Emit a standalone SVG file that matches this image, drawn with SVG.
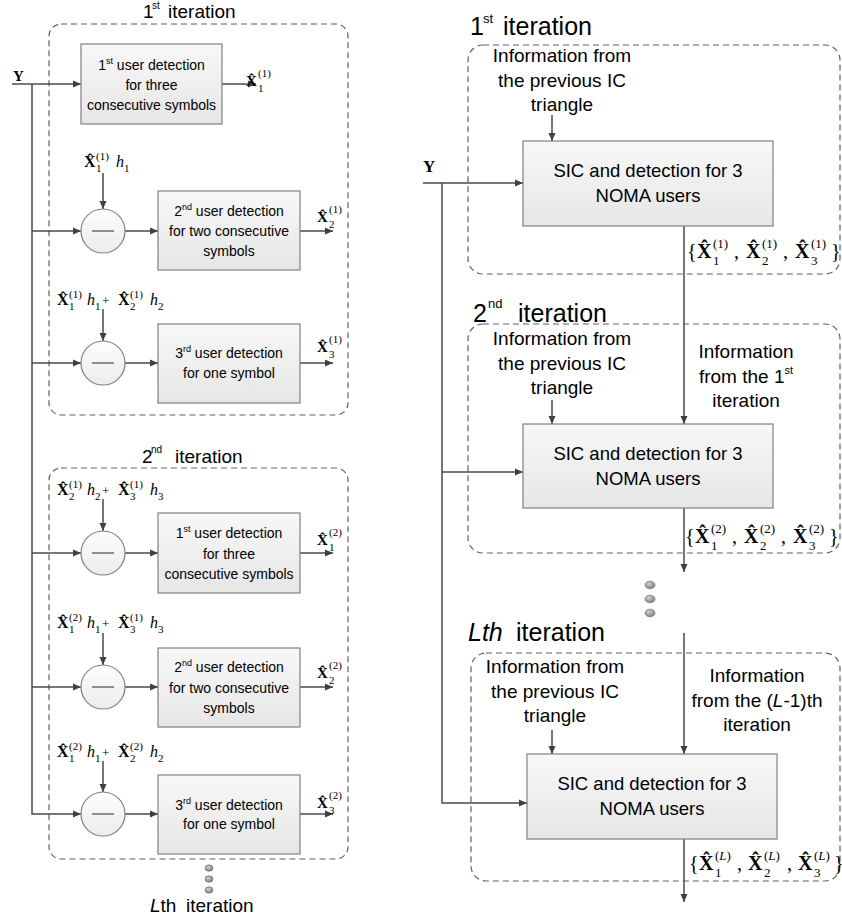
<svg xmlns="http://www.w3.org/2000/svg" width="842" height="918" viewBox="0 0 842 918">
<defs>
<linearGradient id="gbox" x1="0" y1="0" x2="0" y2="1"><stop offset="0" stop-color="#f8f8f8"/><stop offset="1" stop-color="#e6e6e6"/></linearGradient>
<linearGradient id="gcir" x1="0" y1="0" x2="0" y2="1"><stop offset="0" stop-color="#fdfdfd"/><stop offset="1" stop-color="#ececec"/></linearGradient>
<radialGradient id="gdot" cx="0.4" cy="0.35" r="0.7"><stop offset="0" stop-color="#d0d0d0"/><stop offset="1" stop-color="#7a7a7a"/></radialGradient>
<marker id="ar" markerWidth="9" markerHeight="8" refX="8" refY="4" orient="auto" markerUnits="userSpaceOnUse"><path d="M0,0.5 L8,4 L0,7.5 z" fill="#404040"/></marker>
</defs>
<style>
.t{font-family:"Liberation Sans",Arial,sans-serif;fill:#000}
.m{font-family:"Liberation Serif","DejaVu Serif",serif;fill:#000}
.b{font-weight:bold}
.i{font-style:italic}
.s{font-size:11px}
.S{font-size:13px}
.box{fill:url(#gbox);stroke:#808080;stroke-width:1.2}
.cir{fill:url(#gcir);stroke:#808080;stroke-width:1.2}
.dash{fill:none;stroke:#606060;stroke-width:1.2;stroke-dasharray:6 4}
.ln{fill:none;stroke:#4a4a4a;stroke-width:1.5}
.arr{marker-end:url(#ar)}
.minus{stroke:#555;stroke-width:1.3}
.dot{fill:url(#gdot);stroke:#666;stroke-width:0.6}
</style>

<!-- iteration frames -->
<g id="frames">
<rect id="frameL1" class="dash" x="49" y="24" width="299" height="391" rx="12"/>
<rect id="frameL2" class="dash" x="49" y="468" width="299" height="391" rx="12"/>
<rect id="frameR1" class="dash" x="468" y="45" width="372" height="229" rx="15"/>
<rect id="frameR2" class="dash" x="468" y="324" width="372" height="229" rx="15"/>
<rect id="frameR3" class="dash" x="471" y="653" width="369" height="228" rx="15"/>
</g>

<!-- titles -->
<g id="titles">
<text class="t" font-size="19"><tspan x="143" y="18">1</tspan><tspan x="152" y="9" font-size="10">st</tspan><tspan x="168" y="18">iteration</tspan></text>
<text class="t" font-size="19"><tspan x="142" y="463">2</tspan><tspan x="151" y="453" font-size="10">nd</tspan><tspan x="175" y="463">iteration</tspan></text>
<text class="t" font-size="19"><tspan x="150" y="912" class="i">L</tspan><tspan>th</tspan><tspan x="186" y="912">iteration</tspan></text>
<text class="t" font-size="25"><tspan x="470" y="35">1</tspan><tspan x="483" y="23" font-size="13">st</tspan><tspan x="503" y="35">iteration</tspan></text>
<text class="t" font-size="25"><tspan x="473" y="322">2</tspan><tspan x="488" y="308" font-size="13">nd</tspan><tspan x="518" y="322">iteration</tspan></text>
<text class="t" font-size="25"><tspan x="468" y="641" class="i">Lth</tspan><tspan x="516" y="641">iteration</tspan></text>
</g>

<!-- connectors -->
<g id="connectors">
<path class="ln arr" d="M12,84 H81"/>
<path class="ln arr" d="M32,84 V814 H81"/>
<path class="ln arr" d="M32,231 H81"/>
<path class="ln arr" d="M32,363 H81"/>
<path class="ln arr" d="M32,553 H81"/>
<path class="ln arr" d="M32,687 H81"/>
<path class="ln arr" d="M125,231 H158"/>
<path class="ln arr" d="M125,363 H158"/>
<path class="ln arr" d="M125,553 H158"/>
<path class="ln arr" d="M125,687 H158"/>
<path class="ln arr" d="M125,814 H158"/>
<path class="ln arr" d="M222,84 H256"/>
<path class="ln arr" d="M300,231 H333"/>
<path class="ln arr" d="M300,363 H333"/>
<path class="ln arr" d="M300,553 H333"/>
<path class="ln arr" d="M300,687 H333"/>
<path class="ln arr" d="M300,814 H333"/>
<path class="ln arr" d="M103,173 V209"/>
<path class="ln arr" d="M103,309 V341"/>
<path class="ln arr" d="M103,499 V531"/>
<path class="ln arr" d="M103,633 V665"/>
<path class="ln arr" d="M103,761 V792"/>
<path class="ln arr" d="M423,183 H523"/>
<path class="ln arr" d="M442,183 V803 H527"/>
<path class="ln arr" d="M442,472 H523"/>
<path class="ln arr" d="M552,115 V141"/>
<path class="ln arr" d="M552,400 V424"/>
<path class="ln arr" d="M552,730 V754"/>
<path class="ln arr" d="M684,226 V424"/>
<path class="ln arr" d="M684,508 V572"/>
<path class="ln arr" d="M684,633 V754"/>
<path class="ln arr" d="M684,839 V902"/>
</g>

<!-- left column nodes -->
<g id="inputY-left"><text class="m b" font-size="15" x="13" y="81">Y</text></g>

<g id="L1-det1">
<rect class="box" x="81" y="44" width="141" height="80"/>
<text class="t" font-size="14" text-anchor="middle" x="151.5" y="70">1<tspan font-size="9" dy="-6">st</tspan><tspan dy="6">  user detection</tspan></text>
<text class="t" font-size="14" text-anchor="middle" x="151.5" y="90">for three</text>
<text class="t" font-size="14" text-anchor="middle" x="151.5" y="110">consecutive symbols</text>
</g>
<g id="L1-out1"><text class="m" font-size="15"><tspan x="246" y="86" class="b">X&#x0302;</tspan><tspan x="258" y="77" class="s">(1)</tspan><tspan x="258" y="92" class="s">1</tspan></text></g>

<g id="L1-in2"><text class="m" font-size="16"><tspan x="84" y="167" class="b">X&#x0302;</tspan><tspan x="96" y="160" class="s">(1)</tspan><tspan x="96" y="172" class="s">1</tspan><tspan x="116" y="167" class="i">h</tspan><tspan x="124" y="172" class="s">1</tspan></text></g>
<g id="L1-sub2"><circle class="cir" cx="103" cy="231" r="22"/><line class="minus" x1="92" y1="231" x2="114" y2="231"/></g>
<g id="L1-det2">
<rect class="box" x="158" y="191" width="142" height="79"/>
<text class="t" font-size="14" text-anchor="middle" x="229" y="216">2<tspan font-size="9" dy="-6">nd</tspan><tspan dy="6">  user detection</tspan></text>
<text class="t" font-size="14" text-anchor="middle" x="229" y="236">for two consecutive</text>
<text class="t" font-size="14" text-anchor="middle" x="229" y="256">symbols</text>
</g>
<g id="L1-out2"><text class="m" font-size="15"><tspan x="317" y="222" class="b">X&#x0302;</tspan><tspan x="329" y="213" class="s">(1)</tspan><tspan x="329" y="228" class="s">2</tspan></text></g>

<g id="L1-in3"><text class="m" font-size="16"><tspan x="57" y="305" class="b">X&#x0302;</tspan><tspan x="69" y="298" class="s">(1)</tspan><tspan x="69" y="310" class="s">1</tspan><tspan x="87" y="305" class="i">h</tspan><tspan x="95" y="310" class="s">1</tspan><tspan x="102" y="305" class="S">+</tspan><tspan x="118" y="305" class="b">X&#x0302;</tspan><tspan x="130" y="298" class="s">(1)</tspan><tspan x="130" y="310" class="s">2</tspan><tspan x="150" y="305" class="i">h</tspan><tspan x="158" y="310" class="s">2</tspan></text></g>
<g id="L1-sub3"><circle class="cir" cx="103" cy="363" r="22"/><line class="minus" x1="92" y1="363" x2="114" y2="363"/></g>
<g id="L1-det3">
<rect class="box" x="158" y="324" width="142" height="79"/>
<text class="t" font-size="14" text-anchor="middle" x="229" y="358">3<tspan font-size="9" dy="-6">rd</tspan><tspan dy="6">  user detection</tspan></text>
<text class="t" font-size="14" text-anchor="middle" x="229" y="378">for one symbol</text>
</g>
<g id="L1-out3"><text class="m" font-size="15"><tspan x="317" y="352" class="b">X&#x0302;</tspan><tspan x="329" y="343" class="s">(1)</tspan><tspan x="329" y="358" class="s">3</tspan></text></g>

<g id="L2-in1"><text class="m" font-size="16"><tspan x="57" y="495" class="b">X&#x0302;</tspan><tspan x="69" y="488" class="s">(1)</tspan><tspan x="69" y="500" class="s">2</tspan><tspan x="87" y="495" class="i">h</tspan><tspan x="95" y="500" class="s">2</tspan><tspan x="102" y="495" class="S">+</tspan><tspan x="118" y="495" class="b">X&#x0302;</tspan><tspan x="130" y="488" class="s">(1)</tspan><tspan x="130" y="500" class="s">3</tspan><tspan x="150" y="495" class="i">h</tspan><tspan x="158" y="500" class="s">3</tspan></text></g>
<g id="L2-sub1"><circle class="cir" cx="103" cy="553" r="22"/><line class="minus" x1="92" y1="553" x2="114" y2="553"/></g>
<g id="L2-det1">
<rect class="box" x="158" y="513" width="142" height="80"/>
<text class="t" font-size="14" text-anchor="middle" x="229" y="538">1<tspan font-size="9" dy="-6">st</tspan><tspan dy="6">  user detection</tspan></text>
<text class="t" font-size="14" text-anchor="middle" x="229" y="559">for three</text>
<text class="t" font-size="14" text-anchor="middle" x="229" y="579">consecutive symbols</text>
</g>
<g id="L2-out1"><text class="m" font-size="15"><tspan x="317" y="545" class="b">X&#x0302;</tspan><tspan x="329" y="536" class="s">(2)</tspan><tspan x="329" y="551" class="s">1</tspan></text></g>

<g id="L2-in2"><text class="m" font-size="16"><tspan x="57" y="628" class="b">X&#x0302;</tspan><tspan x="69" y="621" class="s">(2)</tspan><tspan x="69" y="633" class="s">1</tspan><tspan x="87" y="628" class="i">h</tspan><tspan x="95" y="633" class="s">1</tspan><tspan x="102" y="628" class="S">+</tspan><tspan x="118" y="628" class="b">X&#x0302;</tspan><tspan x="130" y="621" class="s">(1)</tspan><tspan x="130" y="633" class="s">3</tspan><tspan x="150" y="628" class="i">h</tspan><tspan x="158" y="633" class="s">3</tspan></text></g>
<g id="L2-sub2"><circle class="cir" cx="103" cy="687" r="22"/><line class="minus" x1="92" y1="687" x2="114" y2="687"/></g>
<g id="L2-det2">
<rect class="box" x="158" y="648" width="142" height="79"/>
<text class="t" font-size="14" text-anchor="middle" x="229" y="672">2<tspan font-size="9" dy="-6">nd</tspan><tspan dy="6">  user detection</tspan></text>
<text class="t" font-size="14" text-anchor="middle" x="229" y="693">for two consecutive</text>
<text class="t" font-size="14" text-anchor="middle" x="229" y="713">symbols</text>
</g>
<g id="L2-out2"><text class="m" font-size="15"><tspan x="317" y="678" class="b">X&#x0302;</tspan><tspan x="329" y="669" class="s">(2)</tspan><tspan x="329" y="684" class="s">2</tspan></text></g>

<g id="L2-in3"><text class="m" font-size="16"><tspan x="57" y="757" class="b">X&#x0302;</tspan><tspan x="69" y="750" class="s">(2)</tspan><tspan x="69" y="762" class="s">1</tspan><tspan x="87" y="757" class="i">h</tspan><tspan x="95" y="762" class="s">1</tspan><tspan x="102" y="757" class="S">+</tspan><tspan x="118" y="757" class="b">X&#x0302;</tspan><tspan x="130" y="750" class="s">(2)</tspan><tspan x="130" y="762" class="s">2</tspan><tspan x="150" y="757" class="i">h</tspan><tspan x="158" y="762" class="s">2</tspan></text></g>
<g id="L2-sub3"><circle class="cir" cx="103" cy="814" r="22"/><line class="minus" x1="92" y1="814" x2="114" y2="814"/></g>
<g id="L2-det3">
<rect class="box" x="158" y="775" width="142" height="79"/>
<text class="t" font-size="14" text-anchor="middle" x="229" y="810">3<tspan font-size="9" dy="-6">rd</tspan><tspan dy="6">  user detection</tspan></text>
<text class="t" font-size="14" text-anchor="middle" x="229" y="829">for one symbol</text>
</g>
<g id="L2-out3"><text class="m" font-size="15"><tspan x="317" y="808" class="b">X&#x0302;</tspan><tspan x="329" y="799" class="s">(2)</tspan><tspan x="329" y="814" class="s">3</tspan></text></g>

<g id="dots-left">
<ellipse class="dot" cx="209" cy="868" rx="4" ry="3.2"/>
<ellipse class="dot" cx="209" cy="879" rx="4" ry="3.2"/>
<ellipse class="dot" cx="209" cy="890" rx="4" ry="3.2"/>
</g>

<!-- right column nodes -->
<g id="inputY-right"><text class="m b" font-size="17" x="423" y="172">Y</text></g>

<g id="R1-info">
<text class="t" font-size="19" text-anchor="middle" x="562" y="62">Information from</text>
<text class="t" font-size="19" text-anchor="middle" x="562" y="87">the previous IC</text>
<text class="t" font-size="19" text-anchor="middle" x="562" y="111">triangle</text>
</g>
<g id="R1-sic">
<rect class="box" x="523" y="141" width="250" height="85"/>
<text class="t" font-size="18.5" text-anchor="middle" x="648" y="177">SIC and detection for 3</text>
<text class="t" font-size="18.5" text-anchor="middle" x="648" y="202">NOMA users</text>
</g>
<g id="R1-out"><text class="m" font-size="20"><tspan x="687" y="258">{</tspan><tspan x="697" y="258" class="b">X&#x0302;</tspan><tspan x="713" y="248" font-size="13">(1)</tspan><tspan x="713" y="265" font-size="13">1</tspan><tspan x="734" y="258">,</tspan><tspan x="746" y="258" class="b">X&#x0302;</tspan><tspan x="762" y="248" font-size="13">(1)</tspan><tspan x="762" y="265" font-size="13">2</tspan><tspan x="783" y="258">,</tspan><tspan x="795" y="258" class="b">X&#x0302;</tspan><tspan x="811" y="248" font-size="13">(1)</tspan><tspan x="811" y="265" font-size="13">3</tspan><tspan x="831" y="258">}</tspan></text></g>

<g id="R2-info">
<text class="t" font-size="19" text-anchor="middle" x="562" y="345">Information from</text>
<text class="t" font-size="19" text-anchor="middle" x="562" y="370">the previous IC</text>
<text class="t" font-size="19" text-anchor="middle" x="562" y="394">triangle</text>
</g>
<g id="R2-info2">
<text class="t" font-size="19" text-anchor="middle" x="746" y="358">Information</text>
<text class="t" font-size="19" text-anchor="middle" x="746" y="383">from the 1<tspan font-size="11" dy="-9">st</tspan></text>
<text class="t" font-size="19" text-anchor="middle" x="746" y="407">iteration</text>
</g>
<g id="R2-sic">
<rect class="box" x="523" y="424" width="250" height="84"/>
<text class="t" font-size="18.5" text-anchor="middle" x="648" y="460">SIC and detection for 3</text>
<text class="t" font-size="18.5" text-anchor="middle" x="648" y="485">NOMA users</text>
</g>
<g id="R2-out"><text class="m" font-size="20"><tspan x="685" y="543">{</tspan><tspan x="695" y="543" class="b">X&#x0302;</tspan><tspan x="711" y="533" font-size="13">(2)</tspan><tspan x="711" y="550" font-size="13">1</tspan><tspan x="732" y="543">,</tspan><tspan x="744" y="543" class="b">X&#x0302;</tspan><tspan x="760" y="533" font-size="13">(2)</tspan><tspan x="760" y="550" font-size="13">2</tspan><tspan x="781" y="543">,</tspan><tspan x="793" y="543" class="b">X&#x0302;</tspan><tspan x="809" y="533" font-size="13">(2)</tspan><tspan x="809" y="550" font-size="13">3</tspan><tspan x="829" y="543">}</tspan></text></g>

<g id="dots-right">
<ellipse class="dot" cx="650" cy="585" rx="5" ry="3.8"/>
<ellipse class="dot" cx="650" cy="599" rx="5" ry="3.8"/>
<ellipse class="dot" cx="650" cy="613" rx="5" ry="3.8"/>
</g>

<g id="R3-info">
<text class="t" font-size="19" text-anchor="middle" x="555" y="673">Information from</text>
<text class="t" font-size="19" text-anchor="middle" x="555" y="698">the previous IC</text>
<text class="t" font-size="19" text-anchor="middle" x="555" y="722">triangle</text>
</g>
<g id="R3-info2">
<text class="t" font-size="19" text-anchor="middle" x="757" y="682">Information</text>
<text class="t" font-size="19" text-anchor="middle" x="757" y="707">from the  (<tspan class="i">L</tspan>-1)th</text>
<text class="t" font-size="19" text-anchor="middle" x="757" y="731">iteration</text>
</g>
<g id="R3-sic">
<rect class="box" x="527" y="754" width="250" height="85"/>
<text class="t" font-size="18.5" text-anchor="middle" x="652" y="790">SIC and detection for 3</text>
<text class="t" font-size="18.5" text-anchor="middle" x="652" y="815">NOMA users</text>
</g>
<g id="R3-out"><text class="m" font-size="20"><tspan x="689" y="870">{</tspan><tspan x="699" y="870" class="b">X&#x0302;</tspan><tspan x="715" y="860" font-size="13">(</tspan><tspan class="i" font-size="13">L</tspan><tspan font-size="13">)</tspan><tspan x="715" y="877" font-size="13">1</tspan><tspan x="737" y="870">,</tspan><tspan x="748" y="870" class="b">X&#x0302;</tspan><tspan x="764" y="860" font-size="13">(</tspan><tspan class="i" font-size="13">L</tspan><tspan font-size="13">)</tspan><tspan x="764" y="877" font-size="13">2</tspan><tspan x="787" y="870">,</tspan><tspan x="798" y="870" class="b">X&#x0302;</tspan><tspan x="814" y="860" font-size="13">(</tspan><tspan class="i" font-size="13">L</tspan><tspan font-size="13">)</tspan><tspan x="814" y="877" font-size="13">3</tspan><tspan x="834" y="870">}</tspan></text></g>
</svg>
